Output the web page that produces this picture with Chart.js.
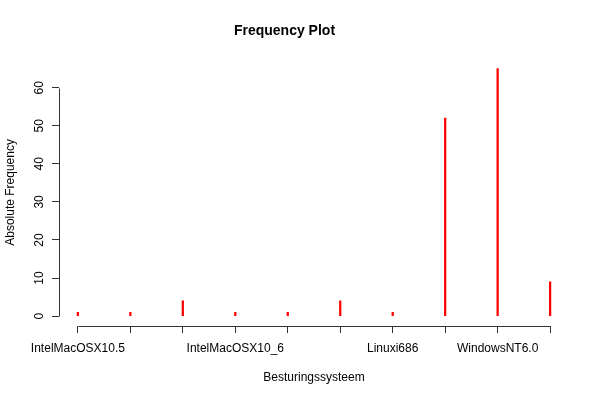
<!DOCTYPE html>
<html>
<head>
<meta charset="utf-8">
<script src="https://cdn.jsdelivr.net/npm/chart.js@4/dist/chart.umd.min.js"></script>
<style>
  html, body { margin: 0; padding: 0; background: #fff; }
  #wrap { width: 600px; height: 400px; }
</style>
</head>
<body>
<div id="wrap"><canvas id="freq"></canvas></div>
<script>
// values
const positions = [1, 2, 3, 4, 5, 6, 7, 8, 9, 10];
const xTickLabels = ['IntelMacOSX10.5', '', '', 'IntelMacOSX10_6', '', '', 'Linuxi686', '', 'WindowsNT6.0', ''];
const frequencies = [1, 1, 4, 1, 1, 4, 1, 52, 65, 9];
const yTicks = [0, 10, 20, 30, 40, 50, 60];

const fontFamily = '"Liberation Sans", Arial, Helvetica, sans-serif';
const axisColor = '#333';

// R style axes: the line only runs from the first to the last tick
const rAxes = {
  id: 'rAxes',
  afterDraw(chart) {
    const ctx = chart.ctx;
    const x = chart.scales.x;
    const y = chart.scales.y;
    const area = chart.chartArea;
    ctx.save();
    ctx.strokeStyle = axisColor;
    ctx.lineWidth = 1;
    ctx.beginPath();
    ctx.moveTo(area.left + 0.5, Math.round(y.getPixelForValue(yTicks[0])) + 0.5);
    ctx.lineTo(area.left + 0.5, Math.round(y.getPixelForValue(yTicks[yTicks.length - 1])) + 0.5);
    ctx.moveTo(Math.round(x.getPixelForValue(positions[0])) + 0.5, area.bottom + 0.5);
    ctx.lineTo(Math.round(x.getPixelForValue(positions[positions.length - 1])) + 0.5, area.bottom + 0.5);
    ctx.stroke();
    ctx.restore();
  }
};

const ctx = document.getElementById('freq').getContext('2d');
const chart = new Chart(ctx, {
  type: 'bar',
  data: {
    datasets: [{
      data: positions.map((p, i) => ({ x: p, y: frequencies[i] })),
      backgroundColor: '#ff0000',
      barThickness: 1.6,
      borderWidth: 0
    }]
  },
  options: {
    responsive: true,
    maintainAspectRatio: false,
    animation: false,
    layout: { padding: { top: 0, right: 31, bottom: 0, left: 0 } },
    plugins: {
      legend: { display: false },
      tooltip: { enabled: false },
      title: {
        display: true,
        text: 'Frequency Plot',
        color: '#000',
        font: { family: fontFamily, size: 14, weight: 'bold' },
        padding: { top: 23, bottom: 19 }
      }
    },
    scales: {
      x: {
        type: 'linear',
        offset: false,
        min: 0.64,
        max: 10.36,
        afterBuildTicks(scale) {
          scale.ticks = positions.map(v => ({ value: v }));
        },
        afterFit(scale) { scale.height = 74; },
        ticks: {
          autoSkip: false,
          maxRotation: 0,
          minRotation: 0,
          padding: 8,
          color: '#000',
          font: { family: fontFamily, size: 12 },
          callback: (v) => xTickLabels[positions.indexOf(v)] || ''
        },
        grid: { display: true, offset: false, drawOnChartArea: false, drawTicks: true, tickLength: 7, color: axisColor },
        border: { display: false },
        title: {
          display: true,
          text: 'Besturingssysteem',
          color: '#000',
          font: { family: fontFamily, size: 12 },
          padding: { top: 0, bottom: 15 }
        }
      },
      y: {
        min: -2.6,
        max: 67.6,
        afterBuildTicks(scale) {
          scale.ticks = yTicks.map(v => ({ value: v }));
        },
        afterFit(scale) { scale.width = 59; },
        ticks: {
          autoSkip: false,
          minRotation: 90,
          maxRotation: 90,
          crossAlign: 'center',
          padding: 6,
          color: '#000',
          font: { family: fontFamily, size: 12 }
        },
        grid: { display: true, drawOnChartArea: false, drawTicks: true, tickLength: 7, color: axisColor },
        border: { display: false },
        title: {
          display: true,
          text: 'Absolute Frequency',
          color: '#000',
          font: { family: fontFamily, size: 12 },
          padding: { top: 3, bottom: 0 }
        }
      }
    }
  },
  plugins: [rAxes]
});
</script>
</body>
</html>
